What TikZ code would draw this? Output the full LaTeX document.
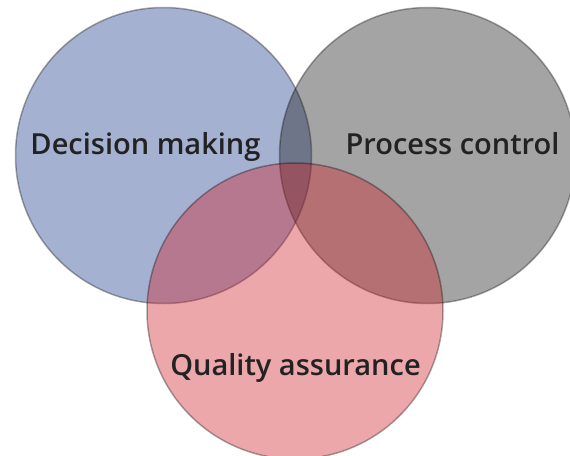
\documentclass[tikz,border=0pt]{standalone}
\usepackage{fontspec}
\setmainfont{Open Sans}[BoldFont={Open Sans Semibold}]
\definecolor{dmblue}{RGB}{30,60,140}
\definecolor{pcgray}{RGB}{27,27,27}
\definecolor{qared}{RGB}{206,36,43}
\definecolor{labeltext}{RGB}{34,34,34}
\tikzset{
  venn/.style={draw=black,draw opacity=0.33,line width=1.5pt,fill opacity=0.4},
  vennlabel/.style={anchor=base,inner sep=0pt,text=labeltext,font=\bfseries\fontsize{29}{34}\selectfont}
}
\begin{document}
\begin{tikzpicture}[x=1pt,y=-1pt,declare function={r=148;}]
				\useasboundingbox (0,0) rectangle (570,455);
				\clip (0,0) rectangle (570,455);
				\path (163.5,155.5) coordinate (A)
				(427.5,155.5) coordinate (B)
				(295,311) coordinate (C);
				\foreach \x/\c in {A/dmblue, B/pcgray, C/qared}{
					\draw[venn,fill=\c] (\x) circle (r);
				}
				\node[vennlabel] (dm) at (145.5,154) {Decision making};
				\node[vennlabel] (pc) at (452.5,154) {Process control};
				\node[vennlabel] (qa) at (295.5,375) {Quality assurance};
			\end{tikzpicture}
\end{document}
